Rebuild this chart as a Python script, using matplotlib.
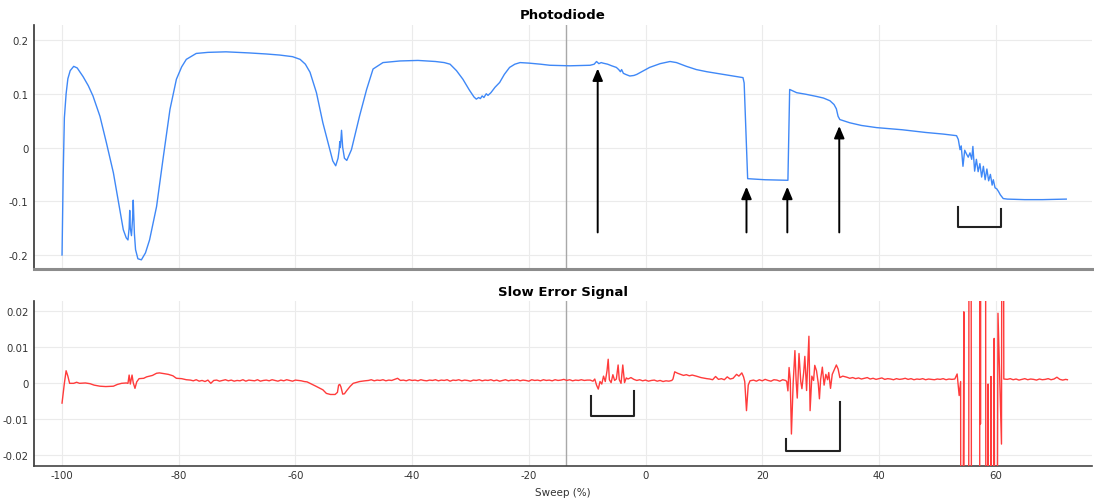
import numpy as np
import matplotlib.pyplot as plt

plt.rcParams["font.family"] = "DejaVu Sans"
plt.rcParams["axes.unicode_minus"] = False

# Photodiode trace (sweep %, volts)
sweep_pd = [
    -100.0, -99.8, -99.6, -99.3, -99.0, -98.6, -98.0, -97.4, -96.4, -95.5,
    -94.7, -93.5, -92.4, -91.2, -90.4, -89.5, -89.0, -88.7, -88.5, -88.4,
    -88.3, -88.1, -87.9, -87.8, -87.6, -87.4, -87.0, -86.4, -85.7, -85.0,
    -83.8, -82.7, -81.5, -80.4, -79.5, -78.7, -77.0, -75.0, -71.9, -68.0,
    -65.0, -62.7, -60.5, -59.2, -58.3, -57.5, -56.4, -55.3, -54.1, -53.6,
    -53.1, -52.7, -52.5, -52.4, -52.3, -52.1, -51.9, -51.6, -51.2, -50.4,
    -49.0, -47.8, -46.7, -45.0, -42.1, -39.0, -36.0, -34.5, -33.5, -32.4,
    -31.3, -30.2, -29.4, -29.0, -28.6, -28.3, -28.0, -27.7, -27.3, -27.0,
    -26.5, -25.8, -25.0, -24.2, -23.3, -22.4, -21.5, -20.0, -18.0, -16.4,
    -13.0, -9.5, -8.8, -8.4, -8.0, -7.6, -7.3, -6.5, -5.8, -5.0,
    -4.6, -4.3, -4.1, -3.8, -3.4, -2.7, -2.0, -1.5, -0.5, 0.7,
    2.5, 4.2, 5.3, 7.0, 8.7, 10.5, 12.2, 14.5, 16.7, 16.9,
    17.5, 20.5, 24.4, 24.7, 25.9, 27.5, 29.3, 30.5, 31.6, 32.3,
    32.7, 33.0, 33.3, 35.0, 37.0, 39.6, 44.0, 48.0, 51.0, 53.3,
    53.6, 53.9, 54.1, 54.4, 54.7, 55.0, 55.3, 55.6, 55.9, 56.1,
    56.4, 56.7, 57.0, 57.3, 57.6, 57.9, 58.2, 58.5, 58.8, 59.1,
    59.4, 59.6, 59.9, 60.2, 60.5, 60.8, 61.3, 62.0, 65.0, 68.0,
    72.1,
]
photodiode = [
    -0.200, -0.050, 0.055, 0.100, 0.128, 0.143, 0.151, 0.148, 0.132, 0.115,
    0.096, 0.058, 0.009, -0.047, -0.097, -0.153, -0.168, -0.172, -0.150, -0.117,
    -0.150, -0.164, -0.130, -0.098, -0.160, -0.190, -0.207, -0.209, -0.196, -0.172,
    -0.110, -0.022, 0.071, 0.127, 0.150, 0.164, 0.175, 0.177, 0.178, 0.176,
    0.174, 0.172, 0.169, 0.164, 0.155, 0.140, 0.102, 0.046, -0.004, -0.025,
    -0.034, -0.020, -0.004, 0.011, 0.000, 0.032, 0.000, -0.020, -0.024, -0.004,
    0.059, 0.108, 0.146, 0.158, 0.161, 0.162, 0.160, 0.158, 0.155, 0.143,
    0.127, 0.107, 0.094, 0.090, 0.093, 0.091, 0.096, 0.093, 0.100, 0.097,
    0.102, 0.112, 0.121, 0.136, 0.149, 0.155, 0.158, 0.157, 0.155, 0.153,
    0.152, 0.153, 0.155, 0.160, 0.156, 0.158, 0.157, 0.155, 0.152, 0.149,
    0.145, 0.141, 0.145, 0.138, 0.136, 0.133, 0.134, 0.136, 0.142, 0.149,
    0.156, 0.160, 0.158, 0.151, 0.145, 0.141, 0.138, 0.134, 0.130, 0.120,
    -0.058, -0.060, -0.061, 0.108, 0.102, 0.099, 0.095, 0.092, 0.087, 0.080,
    0.072, 0.058, 0.052, 0.046, 0.041, 0.037, 0.033, 0.028, 0.025, 0.022,
    0.015, -0.004, 0.003, -0.035, -0.005, -0.012, -0.018, -0.010, -0.022, 0.002,
    -0.044, -0.022, -0.045, -0.030, -0.055, -0.035, -0.060, -0.040, -0.062, -0.050,
    -0.070, -0.060, -0.075, -0.077, -0.082, -0.088, -0.095, -0.096, -0.097, -0.097,
    -0.096,
]

# Slow error signal (sweep %, units of 1e-4 V); +-2000 = far off scale
sweep_err = [
    -100.0, -99.6, -99.3, -99.0, -98.7, -98.0, -97.5, -97.0, -96.0, -95.2,
    -94.5, -93.5, -92.5, -91.2, -90.5, -89.8, -89.0, -88.7, -88.5, -88.3,
    -88.0, -87.8, -87.5, -87.2, -86.8, -86.0, -85.5, -84.5, -83.8, -83.3,
    -82.5, -81.8, -81.0, -80.4, -79.5, -78.7,
    -78.0, -77.5, -77.0, -76.5, -76.0, -75.5, -75.0, -74.5, -74.0, -73.5,
    -73.0, -72.5, -72.0, -71.5, -71.0, -70.5, -70.0, -69.5, -69.0, -68.5,
    -68.0, -67.5, -67.0, -66.5, -66.0, -65.5, -65.0, -64.5, -64.0, -63.5,
    -63.0, -62.5, -62.0, -61.5, -61.0, -60.5, -60.0, -59.5, -59.0, -58.5,
    -58.0,
    -57.5, -56.5, -55.3, -54.7, -54.0, -53.2, -52.8, -52.6, -52.4, -52.2,
    -51.9, -51.6, -51.2, -50.6, -50.1, -49.0, -48.1,
    -47.5, -47.0, -46.5, -46.0, -45.5, -45.0, -44.5, -44.0, -43.5, -43.0,
    -42.5, -42.0, -41.5, -41.0, -40.5, -40.0, -39.5, -39.0, -38.5, -38.0,
    -37.5, -37.0, -36.5, -36.0, -35.5, -35.0, -34.5, -34.0, -33.5, -33.0,
    -32.5, -32.0, -31.5, -31.0, -30.5, -30.0, -29.5, -29.0, -28.5, -28.0,
    -27.5, -27.0, -26.5, -26.0, -25.5, -25.0, -24.5, -24.0, -23.5, -23.0,
    -22.5, -22.0, -21.5, -21.0, -20.5, -20.0, -19.5, -19.0, -18.5, -18.0,
    -17.5, -17.0, -16.5, -16.0, -15.5, -15.0, -14.5, -14.0, -13.5, -13.0,
    -12.5, -12.0, -11.5, -11.0, -10.5, -10.0,
    -9.5, -9.0, -8.7, -8.4, -8.1, -7.8, -7.5, -7.2, -6.9, -6.6,
    -6.4, -6.2, -5.9, -5.6, -5.3, -5.0, -4.7, -4.5, -4.2, -3.9,
    -3.6, -3.3, -3.0, -2.5, -2.0,
    -1.5, -1.0, -0.5, 0.0, 0.5, 1.0, 1.5, 2.0, 2.5, 3.0, 3.5, 4.0, 4.5,
    4.7, 5.0, 5.5, 6.0, 6.5, 7.0, 7.5, 8.0, 8.7, 9.5, 10.5,
    11.0, 11.5, 12.0, 12.5, 13.0, 13.5, 14.0, 14.5, 15.0,
    15.6, 16.0, 16.5, 16.8, 17.0, 17.3, 17.6, 17.9,
    18.5, 19.0, 19.5, 20.0, 20.5, 21.0, 21.5, 22.0, 22.5, 23.0, 23.5, 24.0,
    24.2, 24.4, 24.6, 24.8, 25.0, 25.3, 25.6, 25.8, 26.0, 26.3,
    26.6, 26.8, 27.1, 27.3, 27.6, 28.0, 28.2, 28.5, 28.8, 29.0,
    29.3, 29.6, 29.8, 30.0, 30.3, 30.6, 30.9, 31.2, 31.4, 31.7,
    32.0, 32.4, 32.7, 33.0, 33.3, 33.8,
    34.5, 35.0, 35.5, 36.0, 36.5, 37.0, 37.5, 38.0, 38.5, 39.0,
    39.5, 40.0, 40.5, 41.0, 41.5, 42.0, 42.5, 43.0, 43.5, 44.0,
    44.5, 45.0, 45.5, 46.0, 46.5, 47.0, 47.5, 48.0, 48.5, 49.0,
    49.5, 50.0, 50.5, 51.0, 51.5, 52.0, 52.5,
    53.0, 53.4, 53.75, 54.0, 54.1, 54.55, 54.65, 55.2, 55.4, 55.5,
    55.7, 55.95, 57.25, 57.3, 57.4, 57.5, 58.2, 58.4, 58.7, 58.85,
    59.2, 59.35, 59.75, 60.0, 60.4, 61.0, 61.2, 61.4,
    62.0, 62.5, 63.0, 63.5, 64.0, 64.5, 65.0, 65.5, 66.0, 66.5,
    67.0, 67.5, 68.0, 68.5, 69.0, 69.5, 70.0, 70.5, 71.0, 71.5,
    72.0, 72.3,
]
slow_error_e4 = [
    -55, 0, 35, 20, 0, 0, 3, 0, 1, -1,
    -5, -8, -9, -8, -3, 0, 1, 0, 23, -2,
    23, 2, -14, 4, 13, 14, 18, 22, 28, 29,
    27, 25, 21, 14, 13, 10,
    9, 7, 10, 6, 8, 5, 9, 0, 8, 9,
    6, 8, 10, 7, 9, 6, 8, 7, 10, 6,
    9, 8, 7, 10, 6, 8, 9, 7, 10, 8,
    6, 9, 7, 10, 8, 6, 9, 8, 7, 5,
    4,
    0, -8, -18, -28, -31, -31, -25, -5, -3, -10,
    -30, -29, -20, -8, 0, 5, 7,
    8, 10, 7, 9, 8, 10, 7, 9, 8, 11,
    14, 8, 9, 7, 10, 8, 9, 7, 10, 8,
    7, 9, 8, 10, 7, 9, 8, 10, 6, 9,
    8, 10, 7, 9, 8, 6, 9, 8, 10, 7,
    9, 8, 10, 7, 9, 6, 8, 10, 7, 9,
    8, 10, 7, 9, 8, 6, 10, 8, 9, 7,
    10, 8, 9, 7, 10, 8, 9, 11, 8, 10,
    7, 9, 8, 10, 8, 9,
    9, 6, 12, -5, -16, 5, -2, 20, 5, 35,
    67, 10, 2, 24, 8, 12, 51, 10, 0, 51,
    2, 15, 12, 16, 11,
    8, 10, 7, 9, 6, 8, 9, 6, 8, 5, 7, 6, 8,
    12, 32, 28, 25, 22, 24, 21, 23, 20, 16, 13,
    12, 10, 19, 11, 13, 10, 18, 12, 14,
    25, 20, 29, 18, 5, -76, -5, 7,
    9, 6, 10, 7, 11, 8, 6, 10, 9, 6, 10, 8,
    5, -21, 44, 10, -141, 0, 91, 10, -41, 83,
    5, -15, 30, 75, -20, 131, -76, 20, 8, 50,
    35, 0, -43, 10, 45, -5, 25, 10, 30, -14,
    25, 40, 51, 40, 16, 20,
    17, 14, 16, 13, 15, 12, 14, 16, 12, 14,
    11, 13, 15, 11, 13, 12, 10, 13, 11, 12,
    14, 11, 13, 10, 12, 11, 13, 10, 12, 11,
    10, 12, 11, 13, 10, 12, 11,
    12, 26, -34, 5, -2000, 199, -2000, -2000, -122, 2000,
    2000, -2000, -2000, 2000, -113, 2000, 2000, -2000, -2, -2000,
    19, -2000, 125, -2000, 195, -169, 2000, 12,
    11, 13, 10, 12, 9, 11, 13, 10, 12, 11,
    9, 12, 10, 11, 13, 10, 12, 17, 11, 9,
    11, 10,
]

# annotations: arrows on the photodiode panel, brackets on both panels
arrow_x = [-8.2, 17.3, 24.3, 33.2]
arrow_tip = [0.147, -0.073, -0.073, 0.040]
arrow_tail = -0.158
pd_bracket = (53.5, 61.0, -0.110, -0.115, -0.147)
err_brackets = [(-9.4, -1.9, -0.0036, -0.0021, -0.0092),
                (24.0, 33.3, -0.0155, -0.0053, -0.0188)]
cursor_x = -13.7

pd_ticks = [-0.2, -0.1, 0, 0.1, 0.2]
pd_labels = ["-0.2", "-0.1", "0", "0.1", "0.2"]
err_ticks = [-0.02, -0.01, 0, 0.01, 0.02]
err_labels = ["-0.02", "-0.01", "0", "0.01", "0.02"]
x_ticks = [-100, -80, -60, -40, -20, 0, 20, 40, 60]

assert len(sweep_pd) == len(photodiode)
assert len(sweep_err) == len(slow_error_e4)
slow_error = np.array(slow_error_e4) * 1e-4

BLUE = "#3f88f7"
RED = "#ff3b3b"
GRID = "#ebebeb"
TXT = "#333333"


def style(ax, yticks, ylabels):
    ax.set_xlim(-104.8, 76.5)
    ax.set_xticks(x_ticks)
    ax.set_yticks(yticks)
    ax.set_yticklabels(ylabels)
    ax.grid(True, color=GRID, lw=0.8)
    ax.set_axisbelow(True)
    ax.tick_params(length=0, labelsize=7.3, colors=TXT, pad=4)
    for s in ("top", "right"):
        ax.spines[s].set_visible(False)
    ax.spines["left"].set_color("#333333")
    ax.spines["left"].set_linewidth(1.2)
    ax.axvline(cursor_x, color="#a8a8a8", lw=1.0, zorder=1)


fig = plt.figure(figsize=(10.94, 5.02), dpi=100)
ax1 = fig.add_axes([0.0311, 0.4622, 0.967, 0.4861])
ax2 = fig.add_axes([0.0311, 0.0697, 0.967, 0.3287])

# Photodiode
ax1.plot(sweep_pd, photodiode, color=BLUE, lw=1.0, zorder=3)
style(ax1, pd_ticks, pd_labels)
ax1.set_ylim(-0.226, 0.228)
ax1.tick_params(axis="x", labelbottom=False)
ax1.spines["bottom"].set_color("#8c8c8c")
ax1.spines["bottom"].set_linewidth(2.2)
ax1.set_title("Photodiode", fontsize=9.5, fontweight="bold", pad=5)
for xa, tip in zip(arrow_x, arrow_tip):
    ax1.annotate("", xy=(xa, tip), xytext=(xa, arrow_tail),
                 arrowprops=dict(arrowstyle="-|>,head_length=0.4,head_width=0.17",
                                 mutation_scale=18, color="black", lw=1.4,
                                 shrinkA=0, shrinkB=0), zorder=4)
xl, xr, yl, yr, yb = pd_bracket
ax1.plot([xl, xl, xr, xr], [yl, yb, yb, yr], color="#222222", lw=1.5, zorder=4)

# Slow error signal
ax2.plot(sweep_err, slow_error, color=RED, lw=1.0, zorder=3)
style(ax2, err_ticks, err_labels)
ax2.set_ylim(-0.023, 0.0229)
ax2.spines["bottom"].set_color("#444444")
ax2.spines["bottom"].set_linewidth(1.2)
ax2.tick_params(axis="x", pad=3)
ax2.set_title("Slow Error Signal", fontsize=9.5, fontweight="bold", pad=4)
ax2.set_xlabel("Sweep (%)", fontsize=7.5, color=TXT, labelpad=5)
for xl, xr, yl, yr, yb in err_brackets:
    ax2.plot([xl, xl, xr, xr], [yl, yb, yb, yr], color="#222222", lw=1.5, zorder=4)

fig.savefig("out.png", dpi=100)
